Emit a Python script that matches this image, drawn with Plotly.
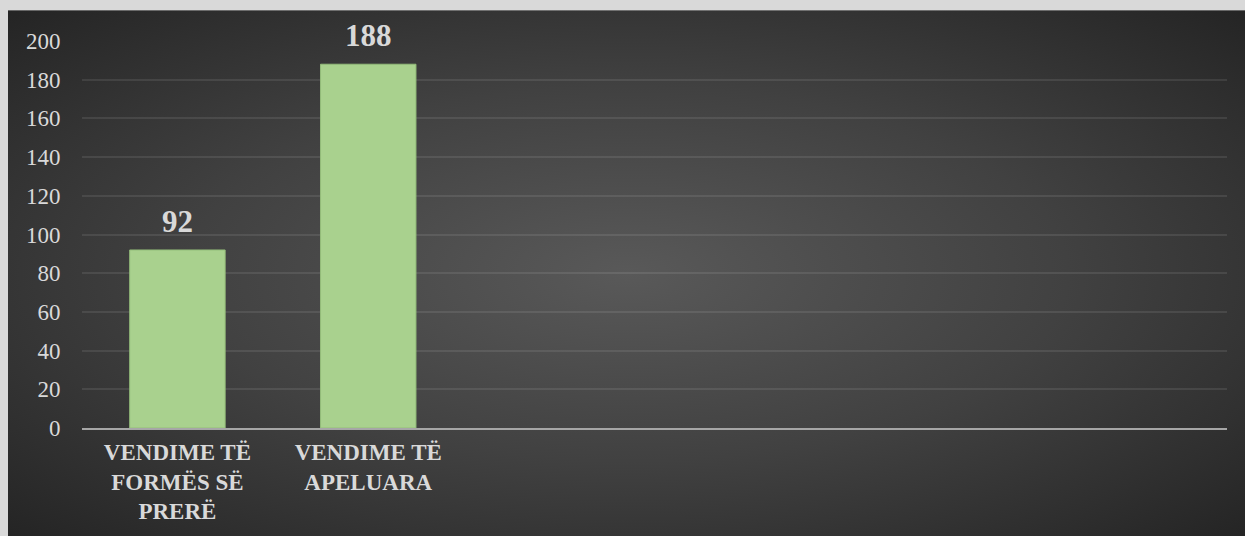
import base64
import plotly.graph_objects as go

# ---- data ----
categories = ["VENDIME TË<br>FORMËS SË<br>PRERË", "VENDIME TË<br>APELUARA"]
values = [92, 188]
n_slots = 6
y_ticks = [0, 20, 40, 60, 80, 100, 120, 140, 160, 180, 200]

W, H = 1245, 536
L, R, T, B = 82, 18, 41, 106
pw, ph = W - L - R, H - T - B

# background panel (radial gradient) as an SVG image
svg = (
    '<svg xmlns="http://www.w3.org/2000/svg" width="1237" height="526" '
    'viewBox="0 0 1237 526" preserveAspectRatio="none">'
    '<defs><radialGradient id="g" cx="0.5" cy="0.5" r="0.71">'
    '<stop offset="0" stop-color="#595959"/>'
    '<stop offset="0.5" stop-color="#414141"/>'
    '<stop offset="1" stop-color="#242424"/>'
    '</radialGradient></defs>'
    '<rect x="0" y="0" width="1237" height="526" fill="url(#g)"/></svg>'
)
src = "data:image/svg+xml;base64," + base64.b64encode(svg.encode()).decode()

px0, px1, py0, py1 = 8, 1248, 10, 540
fig = go.Figure()
fig.add_trace(go.Bar(
    x=categories, y=values,
    marker=dict(color="#a9d18e", line=dict(color="#94bd7a", width=1)),
    cliponaxis=False,
))
for c, v in zip(categories, values):
    fig.add_annotation(
        x=c, y=v, text=str(v), showarrow=False,
        yanchor="bottom", yshift=9,
        font=dict(family="Liberation Serif", size=31, color="#d9d9d9", weight="bold"),
    )

fig.update_layout(
    width=W, height=H,
    margin=dict(l=L, r=R, t=T, b=B),
    paper_bgcolor="#d9d9d9",
    plot_bgcolor="rgba(0,0,0,0)",
    showlegend=False,
    bargap=0.5,
    images=[dict(
        source=src, xref="paper", yref="paper",
        x=(px0 - L) / pw, y=(H - B - py0) / ph,
        sizex=(px1 - px0) / pw, sizey=(py1 - py0) / ph,
        xanchor="left", yanchor="top", sizing="stretch", layer="below",
    )],
    xaxis=dict(
        type="category", range=[-0.5, n_slots - 0.5],
        showgrid=False, showline=True, linecolor="#a6a6a6", linewidth=2,
        tickfont=dict(family="Liberation Serif", size=23, color="#d9d9d9", weight="bold"),
        ticks="outside", ticklen=2, tickcolor="rgba(0,0,0,0)",
    ),
    yaxis=dict(
        range=[0, 200], tickvals=y_ticks,
        showgrid=True, gridcolor="rgba(255,255,255,0.09)", gridwidth=2,
        zeroline=False, showline=False,
        tickfont=dict(family="Liberation Serif", size=23, color="#d9d9d9"),
        ticks="outside", ticklen=16, tickcolor="rgba(0,0,0,0)",
    ),
)

fig.write_html(
    "out.html",
    config={"displayModeBar": False},
    post_script="document.body.style.margin='0';document.body.style.background='#d9d9d9';",
)
